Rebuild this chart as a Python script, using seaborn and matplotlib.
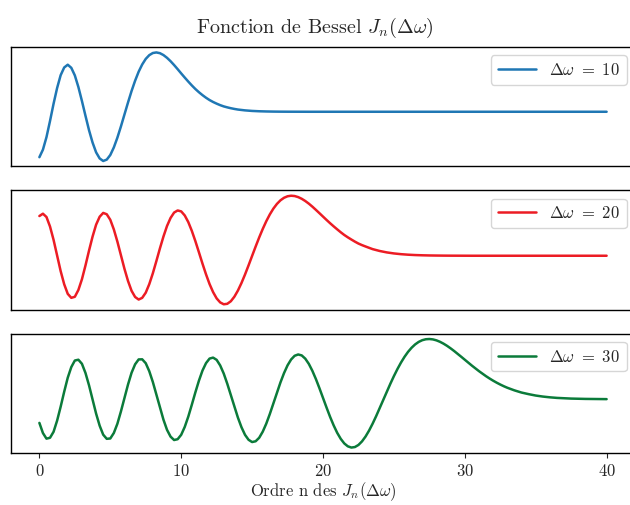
import seaborn as sns
import matplotlib.pyplot as plt
import pandas as pd

# J_n(dw): step 0.25 while the curve oscillates, step 0.5 in the tail
n_dw10 = [i * 0.25 for i in range(57)] + [14.5 + i * 0.5 for i in range(52)]
j_dw10 = [
    -0.2459, -0.2050, -0.1373, -0.0498, 0.0435, 0.1285, 0.1980, 0.2396,
    0.2546, 0.2378, 0.1967, 0.1338, 0.0584, -0.0217, -0.0996, -0.1666,
    -0.2196, -0.2525, -0.2664, -0.2590, -0.2341, -0.1930, -0.1402, -0.0794,
    -0.0145, 0.0502, 0.1122, 0.1680, 0.2167, 0.2559, 0.2861, 0.3064,
    0.3179, 0.3210, 0.3170, 0.3068, 0.2919, 0.2736, 0.2528, 0.2305,
    0.2075, 0.1851, 0.1633, 0.1425, 0.1231, 0.1058, 0.0901, 0.0759,
    0.0634, 0.0529, 0.0439, 0.0358, 0.0290, 0.0238, 0.0192, 0.0153, 0.0120,
    # tail, step 0.5
    0.0075, 0.0045, 0.0027, 0.0016, 0.0009, 0.0005, 0.0003, 0.0002, 0.0001,
    0, 0, 0, 0, 0, 0, 0, 0, 0, 0, 0, 0, 0, 0, 0, 0, 0, 0, 0, 0, 0, 0,
    0, 0, 0, 0, 0, 0, 0, 0, 0, 0, 0, 0, 0, 0, 0, 0, 0, 0, 0, 0, 0,
]

n_dw20 = [i * 0.25 for i in range(93)] + [23.5 + i * 0.5 for i in range(34)]
j_dw20 = [
    0.1670, 0.1768, 0.1629, 0.1228, 0.0668, 0.0010, -0.0647, -0.1200,
    -0.1603, -0.1770, -0.1726, -0.1440, -0.0989, -0.0409, 0.0215, 0.0805,
    0.1307, 0.1640, 0.1801, 0.1745, 0.1512, 0.1107, 0.0595, 0.0022,
    -0.0551, -0.1061, -0.1474, -0.1734, -0.1842, -0.1771, -0.1553, -0.1193,
    -0.0739, -0.0223, 0.0309, 0.0810, 0.1251, 0.1589, 0.1816, 0.1904,
    0.1865, 0.1694, 0.1416, 0.1046, 0.0614, 0.0146, -0.0329, -0.0781,
    -0.1190, -0.1530, -0.1794, -0.1963, -0.2041, -0.2021, -0.1914, -0.1723,
    -0.1464, -0.1148, -0.0790, -0.0405, -0.0008, 0.0387, 0.0769, 0.1126,
    0.1452, 0.1738, 0.1982, 0.2179, 0.2331, 0.2437, 0.2501, 0.2524,
    0.2511, 0.2466, 0.2395, 0.2302, 0.2191, 0.2065, 0.1929, 0.1789,
    0.1647, 0.1506, 0.1368, 0.1237, 0.1111, 0.0988, 0.0874, 0.0774,
    0.0682, 0.0593, 0.0512, 0.0447, 0.0389,
    # tail, step 0.5
    0.0278, 0.0200, 0.0140, 0.0097, 0.0066, 0.0044, 0.0029, 0.0019,
    0.0012, 0.0008, 0.0005, 0.0003, 0.0002, 0.0001,
    0, 0, 0, 0, 0, 0, 0, 0, 0, 0, 0, 0, 0, 0, 0, 0, 0, 0, 0, 0,
]

n_dw30 = [i * 0.25 for i in range(133)] + [33.5 + i * 0.5 for i in range(14)]
j_dw30 = [
    -0.0864, -0.1235, -0.1439, -0.1407, -0.1188, -0.0781, -0.0273, 0.0274,
    0.0785, 0.1172, 0.1412, 0.1441, 0.1293, 0.0958, 0.0508, -0.0010,
    -0.0526, -0.0966, -0.1294, -0.1445, -0.1433, -0.1232, -0.0896, -0.0447,
    0.0049, 0.0536, 0.0965, 0.1274, 0.1452, 0.1456, 0.1314, 0.1021,
    0.0629, 0.0168, -0.0308, -0.0748, -0.1117, -0.1365, -0.1489, -0.1459,
    -0.1299, -0.1011, -0.0635, -0.0200, 0.0251, 0.0675, 0.1044, 0.1316,
    0.1483, 0.1518, 0.1436, 0.1232, 0.0936, 0.0564, 0.0152, -0.0270,
    -0.0672, -0.1021, -0.1299, -0.1480, -0.1563, -0.1534, -0.1407, -0.1185,
    -0.0891, -0.0539, -0.0156, 0.0236, 0.0613, 0.0951, 0.1236, 0.1449,
    0.1585, 0.1633, 0.1598, 0.1480, 0.1290, 0.1036, 0.0735, 0.0400,
    0.0048, -0.0304, -0.0643, -0.0953, -0.1225, -0.1446, -0.1613, -0.1719,
    -0.1764, -0.1745, -0.1669, -0.1539, -0.1362, -0.1143, -0.0891, -0.0615,
    -0.0324, -0.0025, 0.0274, 0.0565, 0.0843, 0.1102, 0.1338, 0.1548,
    0.1730, 0.1880, 0.2001, 0.2092, 0.2154, 0.2188, 0.2197, 0.2183,
    0.2148, 0.2095, 0.2027, 0.1947, 0.1856, 0.1758, 0.1654, 0.1548,
    0.1440, 0.1332, 0.1226, 0.1123, 0.1024, 0.0929, 0.0839, 0.0755,
    0.0676, 0.0603, 0.0536, 0.0474, 0.0418,
    # tail, step 0.5
    0.0323, 0.0243, 0.0185, 0.0134, 0.0097, 0.0069, 0.0048, 0.0034,
    0.0023, 0.0016, 0.0011, 0.0007, 0.0005, 0.0003,
]

series = [
    ("$\\Delta\\omega\\ =\\ 10$", n_dw10, j_dw10, "#1f77b4"),
    ("$\\Delta\\omega\\ =\\ 20$", n_dw20, j_dw20, "#ec1c24"),
    ("$\\Delta\\omega\\ =\\ 30$", n_dw30, j_dw30, "#0b7b3a"),
]

sns.set_style("ticks")
plt.rcParams["font.family"] = "serif"
plt.rcParams["font.serif"] = ["cmr10", "DejaVu Serif"]
plt.rcParams["mathtext.fontset"] = "cm"
plt.rcParams["axes.formatter.use_mathtext"] = True
plt.rcParams["font.size"] = 12

fig, axes = plt.subplots(3, 1, sharex=True, figsize=(6.3, 5.05), dpi=100)
fig.subplots_adjust(left=0.0175, right=1.0079, top=0.9069, bottom=0.103, hspace=0.2)

for ax, (label, n, vals, color) in zip(axes, series):
    df = pd.DataFrame({"n": n, "J": vals})
    sns.lineplot(data=df, x="n", y="J", color=color, linewidth=1.8, label=label, ax=ax)
    ax.set_yticks([])
    ax.set_ylabel("")
    ax.set_xlabel("")
    for s in ax.spines.values():
        s.set_visible(True)
        s.set_linewidth(1.0)
        s.set_color("black")
    ax.legend(loc="upper right", fontsize=12, handlelength=2.3)

for ax in axes[:2]:
    ax.tick_params(bottom=False, labelbottom=False)

axes[2].set_xticks([0, 10, 20, 30, 40])
axes[2].tick_params(labelsize=12)
axes[2].set_xlabel("Ordre n des $J_n(\\Delta\\omega)$", fontsize=12, labelpad=1)

fig.suptitle("Fonction de Bessel $J_n(\\Delta\\omega)$", fontsize=14.5, y=0.9446, va="center")

plt.savefig("out.png", dpi=100)
